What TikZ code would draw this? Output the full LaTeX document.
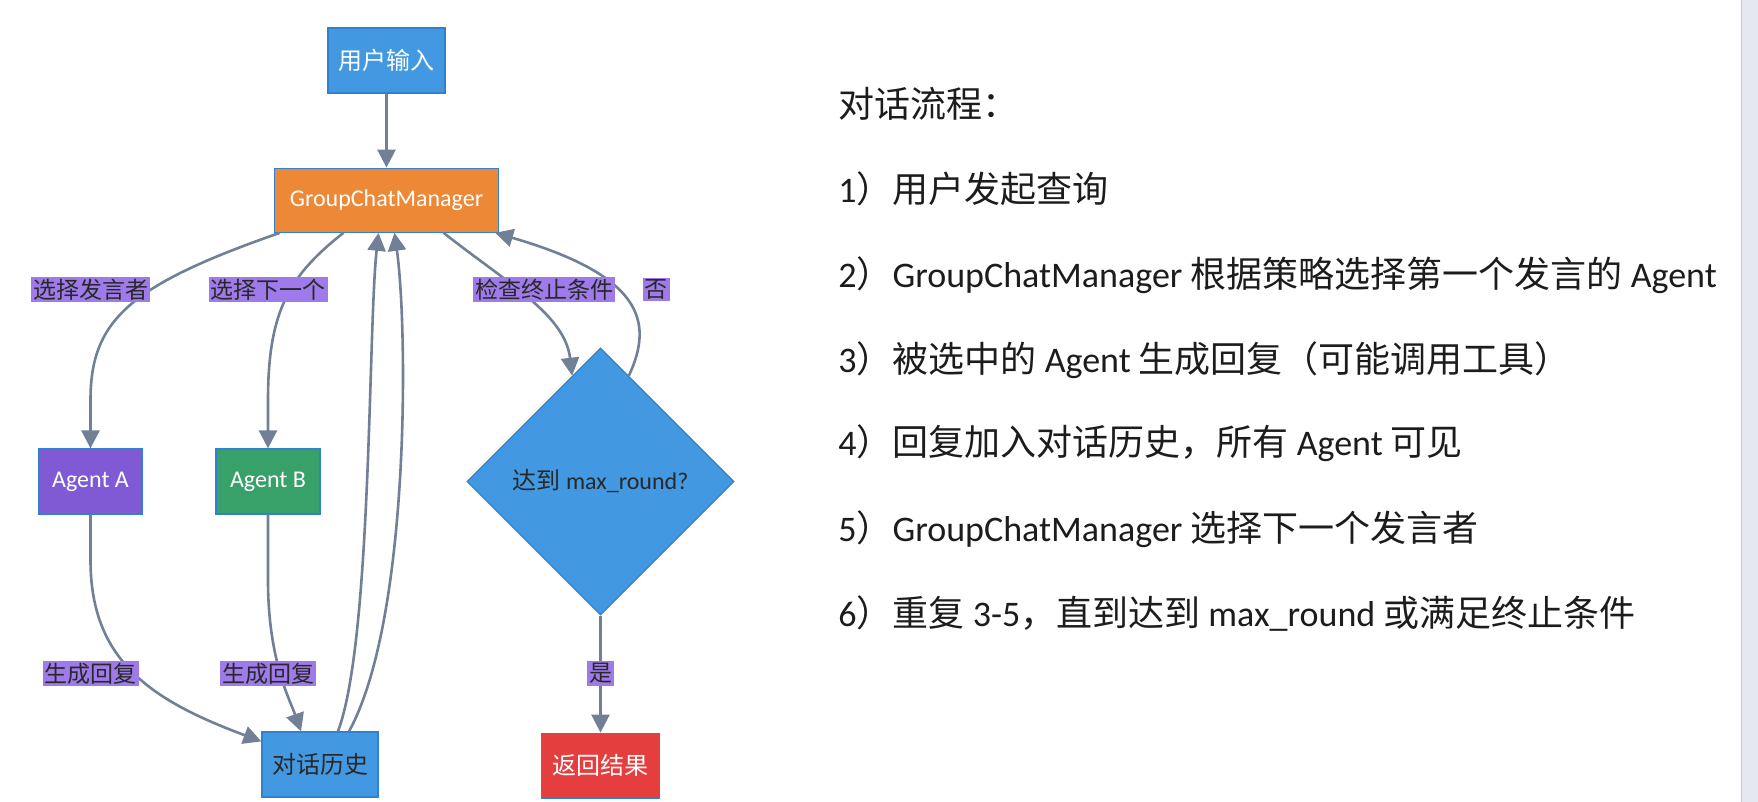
\documentclass[tikz,border=0pt]{standalone}
\usepackage{fontspec}
\setmainfont{Carlito}
\newfontfamily\cjk{Noto Sans CJK SC}
\usepackage{xcolor}
\usepackage{tikz}
\usetikzlibrary{shapes.geometric, arrows.meta, positioning}
\definecolor{flowBlue}{RGB}{66,153,225}
\definecolor{flowOrange}{RGB}{237,137,54}
\definecolor{flowPurple}{RGB}{128,90,213}
\definecolor{flowGreen}{RGB}{56,161,105}
\definecolor{flowRed}{RGB}{229,62,62}
\definecolor{flowTag}{RGB}{159,122,234}
\definecolor{flowEdge}{RGB}{113,128,150}
\definecolor{flowLine}{RGB}{49,130,206}
\definecolor{flowInk}{RGB}{40,40,40}
\definecolor{flowStrip}{RGB}{229,233,239}
\definecolor{flowStripLine}{RGB}{200,205,212}
\newcommand{\zh}[1]{{\cjk #1}}
\newcommand{\flowfont}{\fontsize{12pt}{14pt}\selectfont}
\newcommand{\tagfont}{\fontsize{11.5pt}{13pt}\selectfont}
\newcommand{\notefont}{\fontsize{18pt}{22pt}\selectfont}

\begin{document}
\begin{tikzpicture}[
  x=0.5pt, y=-0.5pt,
  box/.style={
    rectangle, draw=flowLine, line width=0.6pt,
    minimum height=32.5pt, inner sep=2pt,
    text=white, font=\flowfont
  },
  decision/.style={
    diamond, aspect=1, draw=flowLine, line width=0.6pt, fill=flowBlue,
    minimum width=133.5pt, minimum height=133.5pt, inner sep=0pt,
    text=flowInk, font=\flowfont
  },
  tag/.style={fill=flowTag, text=flowInk, inner sep=1pt, font=\tagfont},
  flow/.style={draw=flowEdge, line width=1.3pt, ->},
  note/.style={anchor=base west, inner sep=0pt, text=flowInk!70!black, font=\notefont},
  >={Triangle[length=9pt, width=9pt]}
]
\useasboundingbox (0,0) rectangle (1758,802);
\fill[flowStrip] (1741,0) rectangle (1758,802);
\draw[flowStripLine, line width=0.5pt] (1741,0) -- (1741,802);

% nodes
\node[box, fill=flowBlue, minimum width=58.5pt] (input) at (386.5,60.5) {\zh{用户输入}};
\node[box, fill=flowOrange, minimum width=112pt, minimum height=32pt, below=37pt of input] (manager) {GroupChatManager};
\node[box, fill=flowPurple, minimum width=51.5pt] (agentA) at (90.5,481.5) {Agent A};
\node[box, fill=flowGreen, minimum width=52pt] (agentB) at (268,481.5) {Agent B};
\node[decision] (check) at (600.5,481.5) {\zh{达到} max\_round?};
\node[box, fill=flowBlue, text=flowInk, minimum width=58pt] (history) at (320,764.5) {\zh{对话历史}};
\node[box, fill=flowRed, minimum width=59pt, below=58.5pt of check] (result) {\zh{返回结果}};

% connectors
\draw[flow] (input) -- (manager);
\draw[flow] ([xshift=3pt]manager.south west) .. controls (130,285) and (90.5,320) .. (90.5,400) -- (agentA);
\draw[flow] ([xshift=-21.5pt]manager.south) .. controls (290,275) and (268,310) .. (268,400) -- (agentB);
\draw[flow] ([xshift=28.5pt]manager.south) .. controls (510,285) and (565,315) .. (check.105);
\draw[flow] (check.75) .. controls (655,320) and (640,275) .. ([xshift=-2pt]manager.south east);
\draw[flow] (check) -- (result);
\draw[flow] (agentA) -- (90.5,560) .. controls (90.5,660) and (150,700) .. ([yshift=-5pt]history.north west);
\draw[flow] (agentB) -- (268,580) .. controls (268,660) and (290,700) .. ([xshift=-9.5pt]history.north);
\draw[flow] ([xshift=9pt]history.north) .. controls (372,640) and (368,330) .. ([xshift=-4pt]manager.south);
\draw[flow] ([xshift=14.5pt]history.north) .. controls (410,620) and (408,330) .. ([xshift=4pt]manager.south);

% edge labels
\node[tag] (pickFirst) at (90.5,289.5) {\zh{选择发言者}};
\node[tag] (pickNext) at (268,289.5) {\zh{选择下一个}};
\node[tag] (checkEnd) at (544,289.5) {\zh{检查终止条件}};
\node[tag] (no) at (656,289.5) {\zh{否}};
\node[tag] (replyA) at (91,673.5) {\zh{生成回复}};
\node[tag] (replyB) at (268,673.5) {\zh{生成回复}};
\node[tag] (yes) at (600.5,673.5) {\zh{是}};

% steps on the right
\node[note] (title) at (838,118) {\zh{对话流程：}};
\node[note] (step1) at (838,203) {1\zh{）用户发起查询}};
\node[note] (step2) at (838,288) {2\zh{）}GroupChatManager \zh{根据策略选择第一个发言的} Agent};
\node[note] (step3) at (838,372) {3\zh{）被选中的} Agent \zh{生成回复（可能调用工具）}};
\node[note] (step4) at (838,456) {4\zh{）回复加入对话历史，所有} Agent \zh{可见}};
\node[note] (step5) at (838,541) {5\zh{）}GroupChatManager \zh{选择下一个发言者}};
\node[note] (step6) at (838,626) {6\zh{）重复} 3-5\zh{，直到达到} max\_round \zh{或满足终止条件}};
\end{tikzpicture}
\end{document}
